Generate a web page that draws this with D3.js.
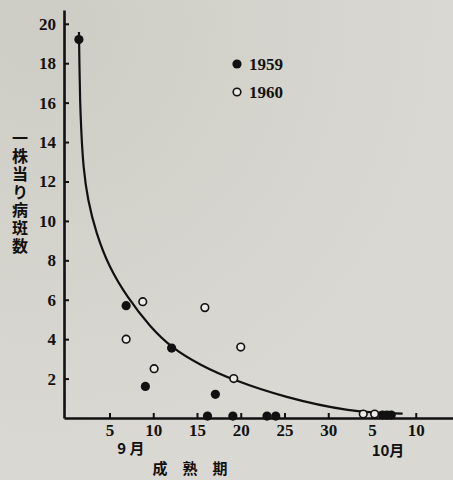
<!DOCTYPE html>
<html><head><meta charset="utf-8">
<script src="https://cdn.jsdelivr.net/npm/d3@7"></script>
<style>
html,body{margin:0;padding:0;background:#d8d7d0;}
svg{display:block;}
</style></head>
<body>
<script>
// ---- data (days counted from 1 Sept; Oct n = 30 + n) ----
const days1959 = [1.5, 6.9, 9.1, 12.1, 17.1, 16.2, 19.1, 23.0, 24.0, 36.2, 36.7, 37.2];
const vals1959 = [19.2, 5.7, 1.6, 3.55, 1.2, 0.1, 0.1, 0.1, 0.1, 0.15, 0.15, 0.15];
const days1960 = [8.8, 6.9, 10.1, 15.9, 20.0, 19.2, 34.0, 35.3];
const vals1960 = [5.9, 4.0, 2.5, 5.6, 3.6, 2.0, 0.2, 0.2];
const curveDays = [1.51, 1.57, 1.63, 1.78, 2.0, 2.51, 3.46, 4.94, 7.0, 9.63, 12.14, 15.34, 19.11, 24.83, 32.5, 38.5];
const curveVals = [19.58, 17.8, 16.1, 14.46, 12.73, 11.06, 9.39, 7.66, 6.14, 4.62, 3.55, 2.69, 1.93, 1.07, 0.3, 0.22];
const xTicks = [5, 10, 15, 20, 25, 30, 35, 40];
const xTickLabels = ["5", "10", "15", "20", "25", "30", "5", "10"];
const yTicks = [2, 4, 6, 8, 10, 12, 14, 16, 18, 20];
const series = ["1959", "1960"];
const yTitle = "一株当り病斑数";
const xTitle = "成 熟 期";
const monthLabels = ["9 月", "10月"];

const W = 453, H = 480;
const svg = d3.select("body").append("svg").attr("width", W).attr("height", H);

// subtle scan shading
const defs = svg.append("defs");
const g1 = defs.append("radialGradient").attr("id","bg").attr("cx","0.1").attr("cy","0.05").attr("r","0.9");
g1.append("stop").attr("offset","0").attr("stop-color","#cecdc5");
g1.append("stop").attr("offset","1").attr("stop-color","#d9d8d2");
svg.append("rect").attr("width",W).attr("height",H).attr("fill","url(#bg)");

const x = d3.scaleLinear().domain([-0.2, 44.6]).range([64, 456]);
const y = d3.scaleLinear().domain([0, 20.7]).range([418, 10]);

const font = "'Liberation Serif', 'DejaVu Serif', serif";
const ink = "#111";

// x axis
const xa = svg.append("g").attr("transform", `translate(0,${y(0)})`)
  .call(d3.axisBottom(x).tickValues(xTicks).tickFormat((d,i)=>xTickLabels[i])
    .tickSizeInner(-5).tickSizeOuter(0).tickPadding(6));
// y axis
const ya = svg.append("g").attr("transform", `translate(${x(-0.2)},0)`)
  .call(d3.axisLeft(y).tickValues(yTicks).tickSizeInner(-5).tickSizeOuter(0).tickPadding(8));

[xa, ya].forEach(a => {
  a.select(".domain").attr("stroke", ink).attr("stroke-width", 2.6);
  a.selectAll(".tick line").attr("stroke", ink).attr("stroke-width", 2);
  a.selectAll(".tick text").attr("fill", ink).style("font-family", font)
    .style("font-size", "17px").style("font-weight", "bold");
});

// fitted curve
const line = d3.line().x(d => x(d[0])).y(d => y(d[1])).curve(d3.curveBasis);
svg.append("path").datum(curveDays.map((d,i)=>[d, curveVals[i]]))
  .attr("d", line).attr("fill","none").attr("stroke", ink).attr("stroke-width", 2.2);

// points
svg.append("g").selectAll("circle").data(days1959.map((d,i)=>[d, vals1959[i]])).join("circle")
  .attr("cx", d=>x(d[0])).attr("cy", d=>y(d[1])).attr("r", 4.6).attr("fill", ink);
svg.append("g").selectAll("circle").data(days1960.map((d,i)=>[d, vals1960[i]])).join("circle")
  .attr("cx", d=>x(d[0])).attr("cy", d=>y(d[1])).attr("r", 3.8)
  .attr("fill", "#ecebe6").attr("stroke", ink).attr("stroke-width", 1.6);

// legend
const lg = svg.append("g");
lg.append("circle").attr("cx", 237).attr("cy", 64).attr("r", 4.6).attr("fill", ink);
lg.append("circle").attr("cx", 237).attr("cy", 92).attr("r", 3.8).attr("fill", "#ecebe6").attr("stroke", ink).attr("stroke-width", 1.6);
lg.selectAll("text").data(series).join("text")
  .attr("x", 249).attr("y", (d,i)=>64 + i*28).attr("dy","0.36em")
  .style("font-family", font).style("font-size","17px").style("font-weight","bold").attr("fill", ink)
  .text(d=>d);

// titles
const jfont = "'Noto Sans CJK JP', sans-serif";
svg.append("text").attr("x", 20).attr("y", 130)
  .style("font-family", jfont).style("font-size","16px").style("font-weight","bold").attr("fill", ink)
  .style("writing-mode","vertical-rl").style("text-orientation","upright").style("letter-spacing","2px")
  .text(yTitle);

svg.append("text").attr("x", 131).attr("y", 449).attr("text-anchor","middle").attr("dy","0.36em")
  .style("font-family", jfont).style("font-size","15px").style("font-weight","bold").attr("fill", ink)
  .text(monthLabels[0]);
svg.append("text").attr("x", 388).attr("y", 451).attr("text-anchor","middle").attr("dy","0.36em")
  .style("font-family", jfont).style("font-size","15px").style("font-weight","bold").attr("fill", ink)
  .text(monthLabels[1]);
svg.append("text").attr("x", 190).attr("y", 469).attr("text-anchor","middle").attr("dy","0.36em")
  .style("font-family", jfont).style("font-size","15px").style("font-weight","bold").attr("fill", ink)
  .style("white-space","pre").text(xTitle.replace(/ /g, "\u3000"));
</script>
</body></html>
